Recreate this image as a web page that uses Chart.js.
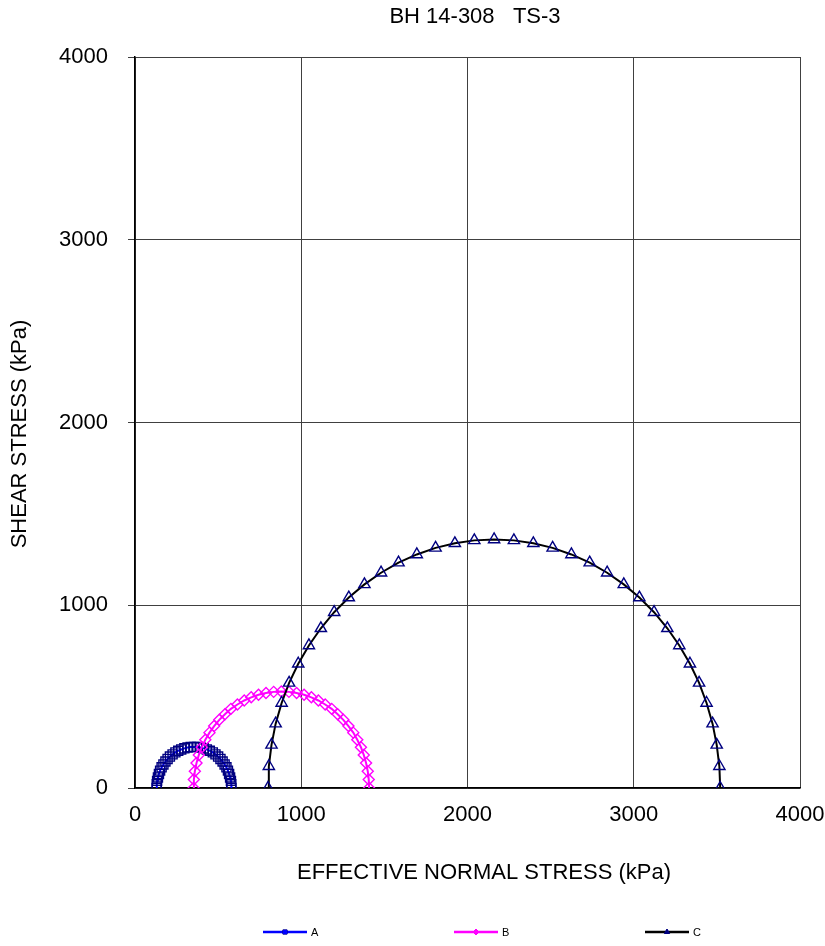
<!DOCTYPE html>
<html>
<head>
<meta charset="utf-8">
<title>BH 14-308 TS-3</title>
<script src="https://cdn.jsdelivr.net/npm/chart.js@4.4.1/dist/chart.umd.min.js"></script>
<style>
  body { margin: 0; background: #ffffff; }
  #chartBox { width: 825px; height: 946px; }
</style>
</head>
<body>
<div id="chartBox"><canvas id="mohrChart" width="825" height="946"></canvas></div>
<script>
// Mohr circle points (kPa)
const aX = [130, 131, 133, 138, 144, 151, 160, 171, 183, 196, 210, 226, 243, 260, 278, 297, 316, 335, 355,
            375, 394, 413, 432, 450, 468, 484, 500, 514, 527, 539, 550, 559, 566, 572, 577, 579, 580];
const aY = [0, 20, 39, 58, 77, 95, 113, 129, 145, 159, 172, 184, 195, 204, 211, 217, 222, 224, 225,
            224, 222, 217, 211, 204, 195, 184, 172, 159, 145, 129, 113, 95, 77, 58, 39, 20, 0];

const bX = [352, 354, 360, 370, 384, 402, 423, 448, 476, 507, 541, 577, 616, 657, 699, 743, 788, 834, 880,
            926, 972, 1017, 1061, 1103, 1144, 1183, 1219, 1253, 1284, 1313, 1337, 1359, 1376, 1390, 1400, 1406, 1408];
const bY = [0, 46, 92, 137, 181, 223, 264, 303, 339, 373, 404, 433, 457, 479, 496, 510, 520, 526, 528,
            526, 520, 510, 496, 479, 457, 433, 404, 373, 339, 303, 264, 223, 181, 137, 92, 46, 0];

const cX = [800, 805, 821, 846, 882, 927, 982, 1046, 1118, 1198, 1286, 1380, 1480, 1585, 1695, 1808, 1924, 2041, 2160,
            2279, 2396, 2512, 2625, 2735, 2840, 2940, 3034, 3122, 3202, 3274, 3338, 3393, 3438, 3474, 3499, 3515, 3520];
const cY = [0, 119, 236, 352, 465, 575, 680, 780, 874, 962, 1042, 1114, 1178, 1233, 1278, 1314, 1339, 1355, 1360,
            1355, 1339, 1314, 1278, 1233, 1178, 1114, 1042, 962, 874, 780, 680, 575, 465, 352, 236, 119, 0];

const seriesNames = ["A", "B", "C"];
const axisTicks = [0, 1000, 2000, 3000, 4000];
const chartTitle = "BH 14-308   TS-3";
const xTitle = "EFFECTIVE NORMAL STRESS (kPa)";
const yTitle = "SHEAR STRESS (kPa)";

const FONT = "'Liberation Sans', Arial, sans-serif";

function toPoints(xs, ys) {
    return xs.map((x, i) => ({ x: x, y: ys[i] }));
}

// Title, axis titles and the bottom legend, drawn by hand to sit where the original puts them
const decorPlugin = {
    id: 'decor',
    afterDraw(chart) {
        const ctx = chart.ctx;
        ctx.save();
        ctx.fillStyle = '#000000';
        ctx.font = `22px ${FONT}`;
        ctx.textAlign = 'center';
        ctx.textBaseline = 'middle';
        ctx.fillText(chartTitle, 475, 17);
        ctx.fillText(xTitle, 484, 873);

        ctx.save();
        ctx.translate(20, 434);
        ctx.rotate(-Math.PI / 2);
        ctx.fillText(yTitle, 0, 0);
        ctx.restore();

        const legendY = 932;
        const startX = 263;
        const step = 191;
        chart.data.datasets.forEach((ds, i) => {
            const x0 = startX + i * step;
            ctx.strokeStyle = ds.borderColor;
            ctx.lineWidth = 2.5;
            ctx.beginPath();
            ctx.moveTo(x0, legendY);
            ctx.lineTo(x0 + 44, legendY);
            ctx.stroke();
            if (Chart.helpers && Chart.helpers.drawPoint) {
                ctx.fillStyle = ds.legendFill;
                ctx.strokeStyle = ds.pointBorderColor;
                ctx.lineWidth = 1;
                Chart.helpers.drawPoint(ctx, { pointStyle: ds.pointStyle, radius: 3, rotation: 0, borderWidth: 1 }, x0 + 22, legendY);
                ctx.fill();
            }
            ctx.fillStyle = '#000000';
            ctx.font = `11px ${FONT}`;
            ctx.textAlign = 'left';
            ctx.fillText(ds.label, x0 + 48, legendY + 1);
        });
        ctx.restore();
    }
};

const whiteBg = {
    id: 'whiteBg',
    beforeDraw(chart) {
        const ctx = chart.ctx;
        ctx.save();
        ctx.fillStyle = '#ffffff';
        ctx.fillRect(0, 0, chart.width, chart.height);
        ctx.restore();
    }
};

const ctx = document.getElementById('mohrChart').getContext('2d');
new Chart(ctx, {
    type: 'scatter',
    data: {
        datasets: [
            {
                label: seriesNames[0],
                data: toPoints(aX, aY),
                showLine: true,
                borderColor: '#0000FF',
                borderWidth: 2,
                pointStyle: 'rect',
                pointRadius: 6.4,
                pointBorderColor: '#000080',
                pointBackgroundColor: 'rgba(0,0,0,0)',
                pointBorderWidth: 1.4,
                legendFill: '#0000FF',
                order: 3
            },
            {
                label: seriesNames[1],
                data: toPoints(bX, bY),
                showLine: true,
                borderColor: '#FF00FF',
                borderWidth: 2,
                pointStyle: 'rectRot',
                pointRadius: 5.5,
                pointBorderColor: '#FF00FF',
                pointBackgroundColor: 'rgba(0,0,0,0)',
                pointBorderWidth: 1.4,
                legendFill: '#FF00FF',
                order: 2
            },
            {
                label: seriesNames[2],
                data: toPoints(cX, cY),
                showLine: true,
                borderColor: '#000000',
                borderWidth: 2,
                pointStyle: 'triangle',
                pointRadius: 6.5,
                pointBorderColor: '#000080',
                pointBackgroundColor: 'rgba(0,0,0,0)',
                pointBorderWidth: 1.4,
                legendFill: '#000080',
                order: 1
            }
        ]
    },
    options: {
        responsive: false,
        animation: false,
        layout: { padding: { left: 0, right: 25, top: 57, bottom: 60 } },
        plugins: {
            legend: { display: false },
            tooltip: { enabled: false }
        },
        scales: {
            x: {
                type: 'linear',
                min: axisTicks[0],
                max: axisTicks[axisTicks.length - 1],
                afterBuildTicks: (scale) => { scale.ticks = axisTicks.map(v => ({ value: v })); },
                afterFit: (scale) => {
                    scale.height = 98;
                    scale.paddingLeft = 0;
                    scale.paddingRight = 0;
                },
                grid: { color: '#404040', lineWidth: 1, drawTicks: false },
                border: { color: '#000000', width: 1.5 },
                ticks: { color: '#000000', font: { family: FONT, size: 22 }, padding: 14, maxRotation: 0,
                         callback: (v) => String(v) },
                title: { display: false }
            },
            y: {
                type: 'linear',
                min: axisTicks[0],
                max: axisTicks[axisTicks.length - 1],
                afterBuildTicks: (scale) => { scale.ticks = axisTicks.map(v => ({ value: v })); },
                afterFit: (scale) => { scale.width = 135; },
                grid: { color: '#404040', lineWidth: 1, tickLength: 7, tickColor: '#404040' },
                border: { color: '#000000', width: 1.5 },
                ticks: { color: '#000000', font: { family: FONT, size: 22 }, padding: 20,
                         callback: (v) => String(v) },
                title: { display: false }
            }
        }
    },
    plugins: [whiteBg, decorPlugin]
});
</script>
</body>
</html>
